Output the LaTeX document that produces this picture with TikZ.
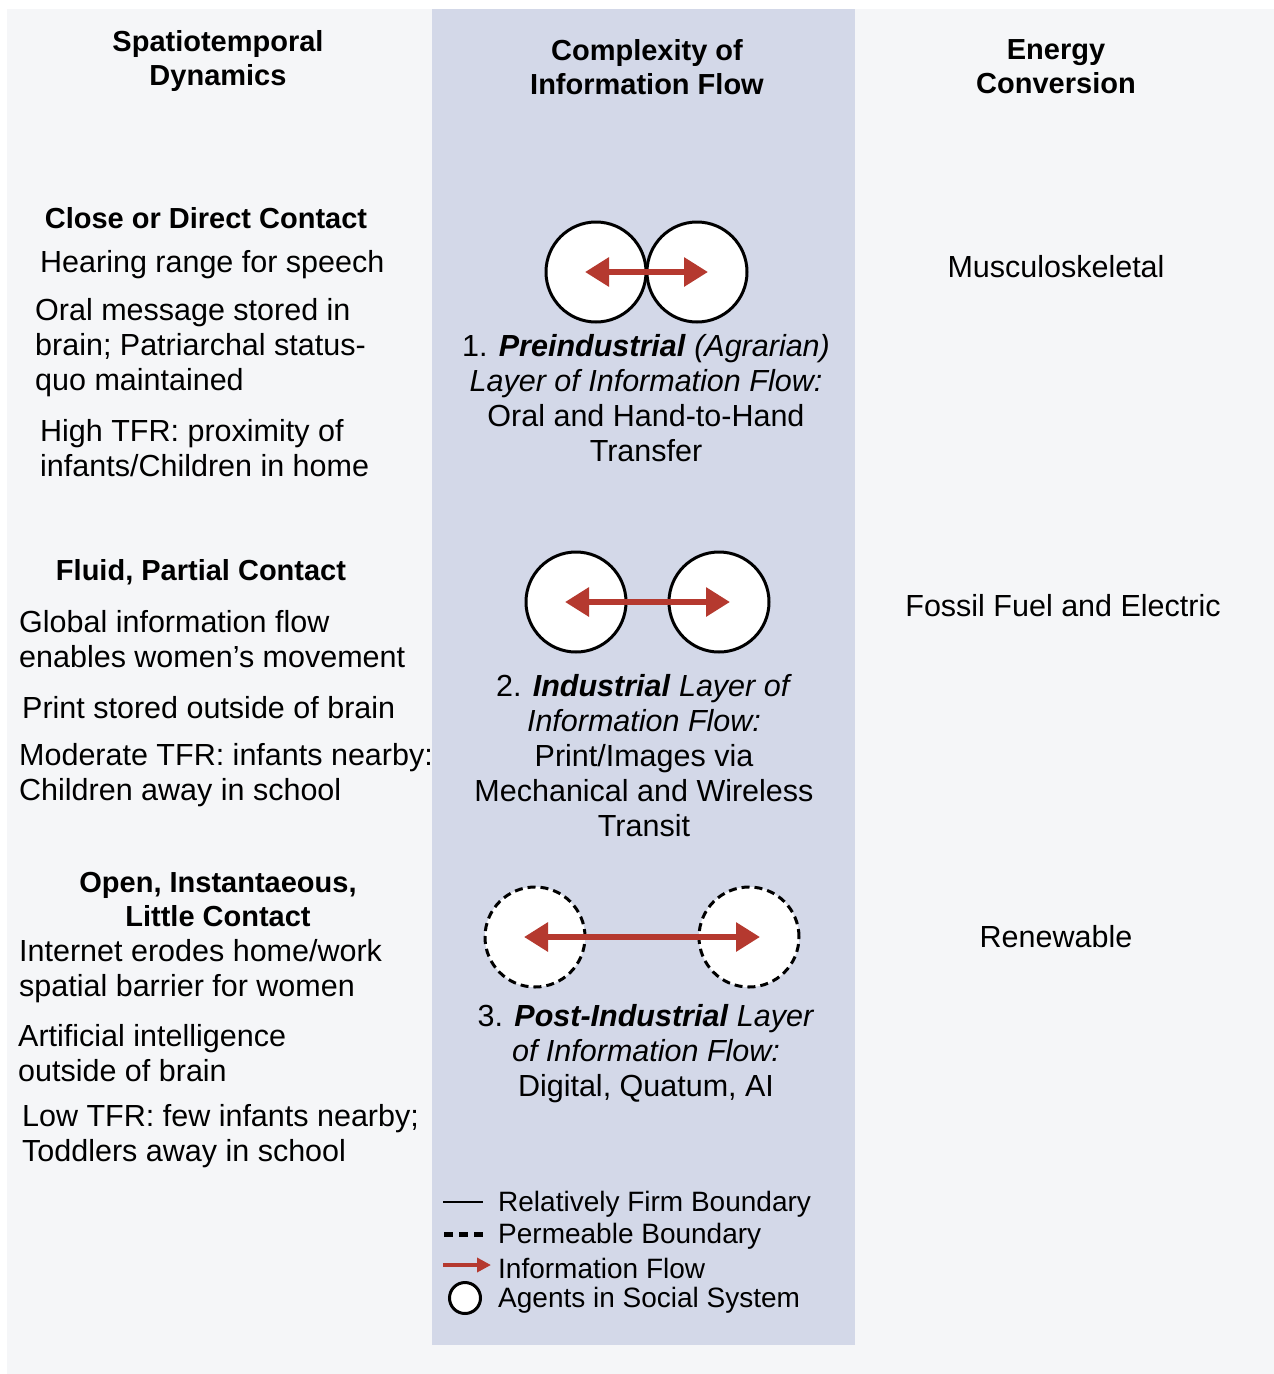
\documentclass[tikz,border=0pt]{standalone}
\usepackage{fontspec}
\setmainfont{Liberation Sans}
\usetikzlibrary{arrows.meta}
\definecolor{panelgray}{HTML}{F5F6F8}
\definecolor{colblue}{HTML}{D3D8E8}
\definecolor{flowred}{HTML}{B5392F}
\tikzset{
  txt/.style={inner sep=0pt, yshift=-3pt, font=\fontsize{30.5}{35}\selectfont},
  ltxt/.style={txt, anchor=west, align=left},
  ctxt/.style={txt, align=center},
  legtxt/.style={inner sep=0pt, yshift=-2pt, anchor=west, font=\fontsize{28}{32}\selectfont},
  head/.style={inner sep=0pt, yshift=-3pt, align=center, font=\fontsize{29}{34}\selectfont\bfseries},
  agent/.style={circle, draw=black, fill=white, line width=3pt, minimum size=100pt, inner sep=0pt},
  pagent/.style={agent, dash pattern=on 8pt off 5pt},
  flow/.style={draw=flowred, line width=6.5pt, {Triangle[length=24pt,width=28pt]}-{Triangle[length=24pt,width=28pt]}, shorten <=-11pt, shorten >=-11pt},
}
\begin{document}
\begin{tikzpicture}[x=1pt,y=-1pt]
\useasboundingbox (0,0) rectangle (1274,1374);
\fill[white] (0,0) rectangle (1274,1374);
\fill[panelgray] (7,9) rectangle (1274,1374);
\fill[colblue] (432,9) rectangle (855,1345);

% headers
\node[head] (h1) at (218,58) {Spatiotemporal\\Dynamics};
\node[head] (h2) at (647,64) {Complexity of\\Information Flow};
\node[head] (h3) at (1056,64) {Energy\\Conversion};

% left column
\node[head] (l1) at (206,215) {Close or Direct Contact};
\node[ltxt] (l1a) at (40,262) {Hearing range for speech};
\node[ltxt] (l1b) at (35,345) {Oral message stored in\\brain; Patriarchal status-\\quo maintained};
\node[ltxt] (l1c) at (40,445.5) {High TFR: proximity of\\infants/Children in home};

\node[head] (l2) at (201,569) {Fluid, Partial Contact};
\node[ltxt] (l2a) at (19,636.5) {Global information flow\\enables women's movement};
\node[ltxt] (l2b) at (22,705) {Print stored outside of brain};
\node[ltxt] (l2c) at (19,772.5) {Moderate TFR: infants nearby:\\Children away in school};

\node[head] (l3) at (218,897) {Open, Instantaeous,\\Little Contact};
\node[ltxt] (l3a) at (19,968.5) {Internet erodes home/work\\spatial barrier for women};
\node[ltxt] (l3b) at (18,1050.5) {Artificial intelligence\\outside of brain};
\node[ltxt] (l3c) at (22,1133.5) {Low TFR: few infants nearby;\\Toddlers away in school};

% middle column: agents
\node[agent] (a1) at (596,272) {};
\node[agent] (b1) at (697,272) {};
\draw[flow] (a1.center) -- (b1.center);
\node[ctxt] (m1) at (646,395.5) {1. \textbf{\textit{Preindustrial}} \textit{(Agrarian)}\\\textit{Layer of Information Flow:}\\Oral and Hand-to-Hand\\Transfer};

\node[agent] (a2) at (576,602) {};
\node[agent] (b2) at (719,602) {};
\draw[flow] (a2.center) -- (b2.center);
\node[ctxt] (m2) at (644,752.5) {2. \textbf{\textit{Industrial}} \textit{Layer of}\\\textit{Information Flow:}\\Print/Images via\\Mechanical and Wireless\\Transit};

\node[pagent] (a3) at (535,937) {};
\node[pagent] (b3) at (749,937) {};
\draw[flow] (a3.center) -- (b3.center);
\node[ctxt] (m3) at (646,1051) {3. \textbf{\textit{Post-Industrial}} \textit{Layer}\\\textit{of Information Flow:}\\Digital, Quatum, AI};

% right column
\node[txt] (r1) at (1056,264) {Musculoskeletal};
\node[txt] (r2) at (1063,603) {Fossil Fuel and Electric};
\node[txt] (r3) at (1056,934) {Renewable};

% legend
\coordinate (k1a) at (443,1202); \coordinate (k1b) at (483,1202);
\coordinate (k2a) at (444,1234); \coordinate (k2b) at (483,1234);
\coordinate (k3a) at (443,1265); \coordinate (k3b) at (491,1265);
\draw[line width=2.5pt] (k1a) -- (k1b);
\draw[line width=5pt, dash pattern=on 9pt off 6pt] (k2a) -- (k2b);
\draw[flowred, line width=4pt, -{Triangle[length=14pt,width=14pt]}] (k3a) -- (k3b);
\node[circle, draw=black, fill=white, line width=3pt, minimum size=31pt, inner sep=0pt] (k4) at (465,1298) {};
\node[legtxt] (t1) at (498,1202) {Relatively Firm Boundary};
\node[legtxt] (t2) at (498,1234) {Permeable Boundary};
\node[legtxt] (t3) at (498,1266) {Information Flow};
\node[legtxt] (t4) at (498,1298) {Agents in Social System};
\end{tikzpicture}
\end{document}
